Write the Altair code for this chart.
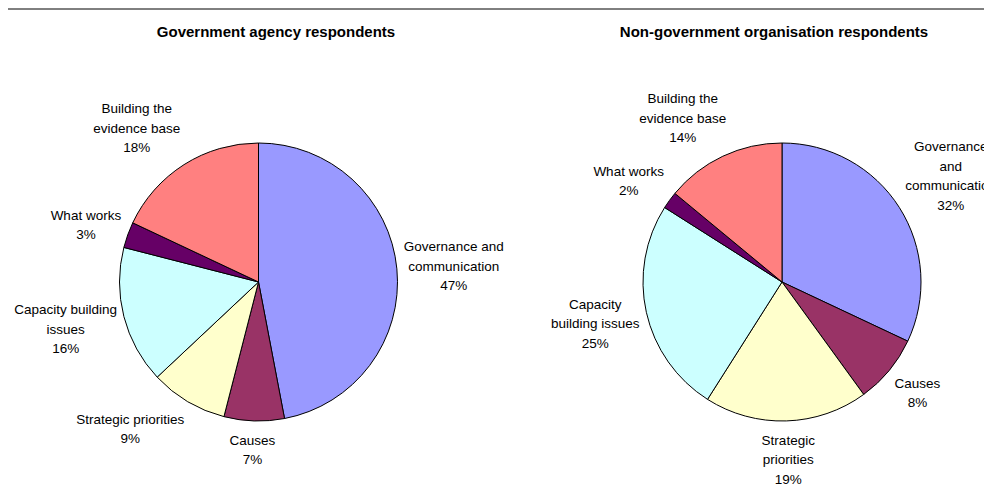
import math
import altair as alt
import pandas as pd

panels = ["Government agency respondents", "Non-government organisation respondents"]
categories = ["Governance and communication", "Causes", "Strategic priorities",
              "Capacity building issues", "What works", "Building the evidence base"]
colors = ["#9999FF", "#993366", "#FFFFCC", "#CCFFFF", "#660066", "#FF8080"]

gov_values = [47, 7, 9, 16, 3, 18]
ngo_values = [32, 8, 19, 25, 2, 14]

gov_labels = ["Governance and\ncommunication", "Causes", "Strategic priorities",
              "Capacity building\nissues", "What works", "Building the\nevidence base"]
ngo_labels = ["Governance\nand\ncommunication", "Causes", "Strategic\npriorities",
              "Capacity\nbuilding issues", "What works", "Building the\nevidence base"]

FONT_SIZE = 13.5
LH = 19.5

# approximate Arial advance widths (per 1000 em) used to size label boxes
_w = {c: 556 for c in "abdeghnopqu0123456789"}
_w.update({c: 500 for c in "cksvxyz"})
_w.update({"f": 278, "t": 278, "i": 222, "j": 222, "l": 222, "r": 333, "m": 833, "w": 722,
           " ": 278, "%": 889, "-": 333, "C": 722, "G": 778, "S": 667, "W": 944, "B": 667, "N": 722})


def text_width(s):
    return sum(_w.get(c, 600) for c in s) / 1000 * FONT_SIZE


rows = []
for panel, vals, labs in [(panels[0], gov_values, gov_labels), (panels[1], ngo_values, ngo_labels)]:
    for order, (cat, v, lab) in enumerate(zip(categories, vals, labs)):
        text = f"{lab}\n{v}%"
        lines = text.split("\n")
        rows.append(dict(panel=panel, category=cat, order=order, value=v, text=text,
                         tw=max(text_width(l) for l in lines), nlines=len(lines)))
df = pd.DataFrame(rows)

base = alt.Chart(df).transform_window(
    cum="sum(value)", groupby=["panel"], sort=[alt.SortField("order")], frame=[None, 0]
).transform_calculate(
    start="datum.cum - datum.value",
    mid="datum.cum - datum.value / 2",
)

theta_scale = alt.Scale(domain=[0, 100], range=[0, 2 * math.pi])
x_pie = alt.X("panel:N", scale=alt.Scale(type="point", domain=panels, range=[250.5, 774], padding=0), axis=None)
CY = 274

pies = base.mark_arc(radius=139, stroke="black", strokeWidth=1).encode(
    x=x_pie,
    y=alt.value(CY),
    theta=alt.Theta("start:Q", scale=theta_scale, stack=None),
    theta2="cum:Q",
    color=alt.Color("category:N", scale=alt.Scale(domain=categories, range=colors), legend=None),
    order=alt.Order("order:Q"),
)

labels = base.transform_calculate(
    a="datum.mid / 100 * 2 * PI"
).transform_calculate(
    h=f"(datum.nlines - 1) * {LH} + 14"
).transform_calculate(
    cx="146 * sin(datum.a) + datum.tw / 2 * clamp(2 * sin(datum.a), -1, 1)"
).transform_calculate(
    cy="-146 * cos(datum.a) - datum.h / 2 * clamp(1.4 * cos(datum.a), -1, 1)"
       " - 8 * pow(max(cos(datum.a), 0), 2) + 4 * pow(max(-cos(datum.a), 0), 2)"
).transform_calculate(
    ay=f"datum.cy - (datum.nlines - 1) * {LH} / 2 + 2"
).transform_calculate(
    lt="atan2(datum.cx, -datum.ay) / (2 * PI) * 100"
).transform_calculate(
    lr="sqrt(datum.cx * datum.cx + datum.ay * datum.ay)"
).mark_text(
    font="Liberation Sans", fontSize=FONT_SIZE, lineHeight=LH, lineBreak="\n",
    color="black", align="center", baseline="middle",
).encode(
    x=x_pie,
    y=alt.value(CY),
    theta=alt.Theta("lt:Q", scale=theta_scale, stack=None),
    radius=alt.Radius("lr:Q", scale=None),
    text="text:N",
)

titles = alt.Chart(pd.DataFrame({"panel": panels})).mark_text(
    font="Liberation Sans", fontSize=15, fontWeight="bold", color="black",
    align="center", baseline="middle",
).encode(
    x=alt.X("panel:N", scale=alt.Scale(type="point", domain=panels, range=[268, 766], padding=0), axis=None),
    y=alt.value(24),
    text="panel:N",
)

rule = alt.Chart(pd.DataFrame({"k": [0]})).mark_rule(color="black", strokeWidth=1).encode(
    x=alt.value(0), x2=alt.value(976), y=alt.value(1)
)

chart = alt.layer(rule, pies, labels, titles).resolve_scale(x="independent").properties(
    width=976, height=484, autosize=alt.AutoSizeParams(type="none"), padding=0
).configure_view(stroke=None)

chart.save("out.html", embed_options={"renderer": "svg", "actions": False})
